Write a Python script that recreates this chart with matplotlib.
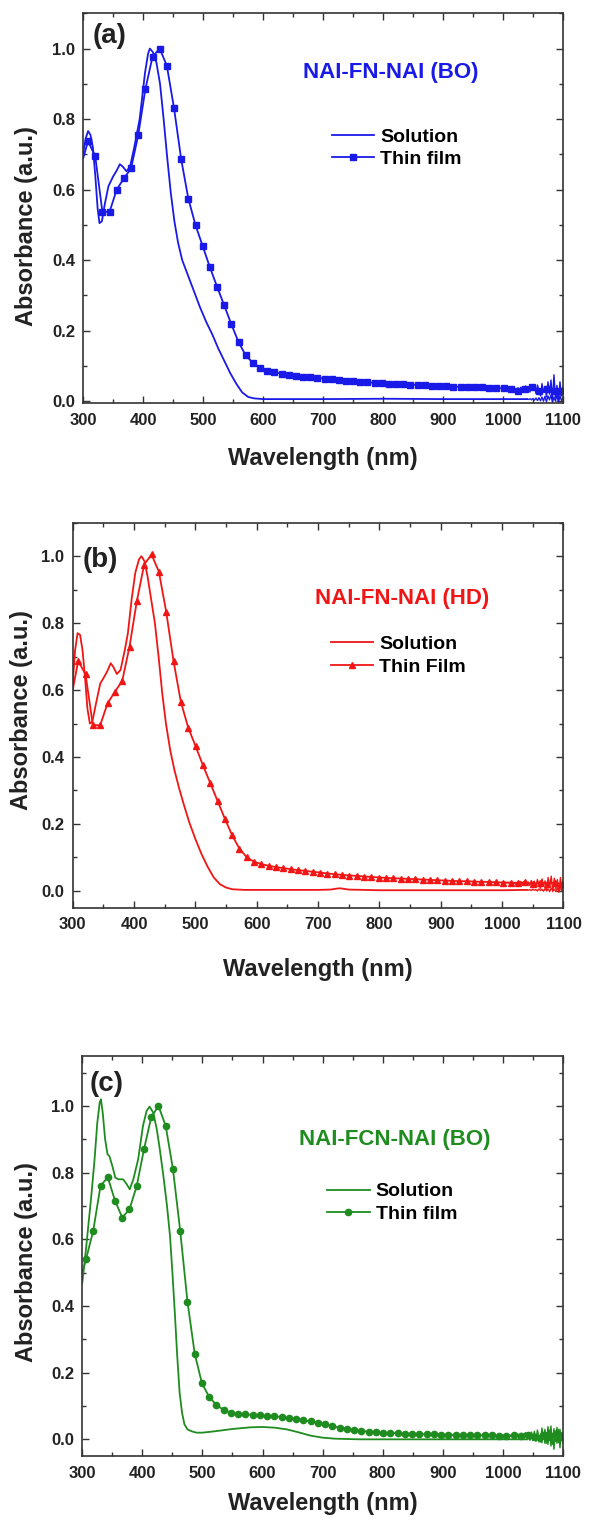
import numpy as np
import matplotlib
matplotlib.use('Agg')
import matplotlib.pyplot as plt
from matplotlib.ticker import MultipleLocator
from matplotlib.lines import Line2D

plt.rcParams['font.family'] = ['Liberation Sans', 'DejaVu Sans']
plt.rcParams['font.weight'] = 'bold'

# ---------------- (a) NAI-FN-NAI (BO) ----------------
sol_a_wl = [300, 304, 308, 312, 316, 320, 324, 327, 331, 336, 342, 350, 356, 361, 366, 372,
            378, 385, 394, 403, 408, 411, 416, 422, 428, 434, 440, 446, 452, 458, 465, 475,
            485, 495, 505, 515, 525, 535, 545, 555, 565, 575, 585, 600, 700, 800, 900, 1000, 1040]
sol_a_abs = [0.705, 0.745, 0.766, 0.755, 0.72, 0.64, 0.545, 0.505, 0.51, 0.56, 0.61, 0.638, 0.655,
             0.672, 0.665, 0.652, 0.665, 0.72, 0.80, 0.932, 0.985, 1.0, 0.99, 0.96, 0.90, 0.80,
             0.69, 0.59, 0.51, 0.45, 0.40, 0.355, 0.31, 0.265, 0.225, 0.19, 0.15, 0.115, 0.08,
             0.05, 0.025, 0.012, 0.008, 0.006, 0.006, 0.007, 0.006, 0.006, 0.006]
sol_a_noise = [0.006, 0.005, 0.007, 0.004, 0.008, 0.003, 0.009, 0.002, 0.010, 0.001, 0.012, 0.000,
               0.014, -0.002, 0.015, 0.004, 0.018, -0.004, 0.012, 0.000, 0.020, -0.005, 0.016,
               0.002, 0.010]
film_a_start = 0.69
film_a_wl = np.arange(307.95, 1100, 11.95)
film_a_abs = [0.737, 0.695, 0.537, 0.537, 0.60, 0.632, 0.66, 0.754, 0.885, 0.977, 1.0, 0.951,
              0.831, 0.686, 0.574, 0.499, 0.44, 0.38, 0.325, 0.272, 0.218, 0.168, 0.13, 0.109,
              0.095, 0.087, 0.082, 0.078, 0.075, 0.072, 0.07, 0.068, 0.066, 0.064, 0.062, 0.06,
              0.058, 0.057, 0.055, 0.054, 0.052, 0.051, 0.05, 0.049, 0.048, 0.047, 0.046, 0.045,
              0.044, 0.043, 0.042, 0.041, 0.041, 0.04, 0.039, 0.039, 0.038, 0.037, 0.037, 0.036,
              0.03, 0.035, 0.04, 0.03, 0.035, 0.03, 0.028]
film_a_noise = [0.036, 0.034, 0.038, 0.035, 0.037, 0.033, 0.038, 0.030, 0.036, 0.025, 0.038,
                0.032, 0.040, 0.028, 0.036, 0.043, 0.030, 0.038, 0.026, 0.044, 0.032, 0.040,
                0.022, 0.046, 0.030, 0.015, 0.050, 0.025, 0.042, 0.012, 0.055, 0.020, 0.060,
                0.005, 0.075, 0.010, 0.045, 0.002, 0.055, 0.015, 0.040]

# ---------------- (b) NAI-FN-NAI (HD) ----------------
sol_b_wl = [300, 304, 308, 312, 316, 320, 324, 328, 332, 338, 345, 350, 356, 362, 366, 372, 378,
            385, 390, 396, 402, 408, 412, 417, 422, 428, 434, 440, 446, 452, 459, 466, 473, 480,
            490, 500, 510, 520, 530, 540, 550, 560, 580, 700, 720, 735, 750, 800, 1000, 1040]
sol_b_abs = [0.62, 0.72, 0.77, 0.765, 0.72, 0.64, 0.545, 0.50, 0.505, 0.56, 0.62, 0.635, 0.655,
             0.68, 0.67, 0.648, 0.66, 0.72, 0.77, 0.87, 0.95, 0.99, 1.0, 0.985, 0.94, 0.87, 0.80,
             0.70, 0.59, 0.50, 0.42, 0.36, 0.31, 0.265, 0.205, 0.155, 0.11, 0.072, 0.04, 0.02,
             0.01, 0.005, 0.003, 0.003, 0.004, 0.008, 0.004, 0.002, 0.002, 0.003]
sol_b_noise = [0.003, 0.002, 0.004, 0.001, 0.005, 0.002, 0.004, 0.000, 0.006, 0.001, 0.005,
               -0.001, 0.007, 0.000, 0.006, -0.002, 0.008, 0.001, 0.005, -0.002, 0.009, 0.000,
               0.006, 0.002, 0.004]
film_b_start = 0.60
film_b_wl = np.arange(309, 1100, 11.95)
film_b_abs = [0.687, 0.647, 0.495, 0.495, 0.56, 0.595, 0.627, 0.73, 0.866, 0.975, 1.005, 0.954,
              0.834, 0.687, 0.565, 0.488, 0.433, 0.376, 0.323, 0.269, 0.216, 0.166, 0.126, 0.1,
              0.087, 0.08, 0.075, 0.071, 0.068, 0.065, 0.062, 0.06, 0.057, 0.055, 0.052, 0.05,
              0.048, 0.046, 0.045, 0.043, 0.042, 0.04, 0.039, 0.038, 0.037, 0.036, 0.035, 0.034,
              0.033, 0.032, 0.031, 0.03, 0.029, 0.029, 0.028, 0.027, 0.027, 0.026, 0.025, 0.025,
              0.024, 0.026, 0.02, 0.025, 0.022, 0.025, 0.02]
film_b_noise = [0.025, 0.023, 0.026, 0.024, 0.025, 0.022, 0.026, 0.021, 0.025, 0.019, 0.027,
                0.022, 0.028, 0.018, 0.026, 0.030, 0.019, 0.027, 0.016, 0.031, 0.020, 0.029,
                0.013, 0.034, 0.018, 0.008, 0.036, 0.014, 0.030, 0.004, 0.040, 0.010, 0.044,
                -0.002, 0.038, 0.006, 0.034, -0.004, 0.040, 0.002, 0.030]

# ---------------- (c) NAI-FCN-NAI (BO) ----------------
sol_c_wl = [300, 305, 310, 315, 320, 325, 329, 331, 334, 338, 342, 345, 350, 355, 360, 368, 374,
            379, 385, 393, 401, 407, 412, 418, 424, 429, 435, 441, 446, 450, 454, 458, 462, 466,
            470, 475, 482, 490, 500, 520, 550, 580, 600, 620, 640, 660, 680, 700, 720, 760, 900,
            1000, 1040]
sol_c_abs = [0.47, 0.55, 0.64, 0.73, 0.83, 0.95, 1.01, 1.02, 0.98, 0.90, 0.855, 0.85, 0.82, 0.785,
             0.78, 0.78, 0.765, 0.75, 0.78, 0.84, 0.94, 0.985, 0.998, 0.98, 0.93, 0.87, 0.79, 0.70,
             0.61, 0.50, 0.38, 0.25, 0.14, 0.08, 0.045, 0.03, 0.024, 0.02, 0.02, 0.024, 0.031,
             0.036, 0.037, 0.035, 0.03, 0.021, 0.011, 0.005, 0.002, 0.0, 0.0, 0.0, 0.0]
sol_c_noise = [0.000, 0.004, -0.003, 0.006, -0.004, 0.008, -0.006, 0.010, -0.008, 0.012, -0.010,
               0.015, -0.012, 0.020, -0.015, 0.028, -0.020, 0.018, -0.030, 0.025, -0.012, 0.030,
               -0.025, 0.020, -0.010]
film_c_start = 0.50
film_c_wl = np.arange(306.2, 1100, 12.06)
film_c_abs = [0.54, 0.626, 0.76, 0.786, 0.716, 0.665, 0.69, 0.76, 0.87, 0.966, 1.0, 0.94, 0.81,
              0.625, 0.413, 0.257, 0.168, 0.127, 0.103, 0.088, 0.08, 0.077, 0.075, 0.073, 0.072,
              0.07, 0.069, 0.067, 0.064, 0.062, 0.058, 0.054, 0.05, 0.045, 0.04, 0.035, 0.031,
              0.028, 0.025, 0.023, 0.021, 0.02, 0.019, 0.018, 0.017, 0.016, 0.016, 0.015, 0.015,
              0.014, 0.014, 0.013, 0.013, 0.013, 0.012, 0.012, 0.012, 0.011, 0.011, 0.012, 0.01,
              0.012, 0.008, 0.012, 0.01, 0.012]
film_c_noise = [0.012, 0.010, 0.014, 0.011, 0.013, 0.009, 0.014, 0.008, 0.015, 0.006, 0.016,
                0.009, 0.018, 0.004, 0.015, 0.020, 0.006, 0.017, 0.002, 0.022, 0.008, 0.024,
                -0.002, 0.028, 0.004, -0.008, 0.034, 0.000, 0.030, -0.012, 0.038, -0.004, 0.040,
                -0.015, 0.032, -0.006, 0.036, -0.010, 0.030, -0.004, 0.020]

sol_noise_wl = np.arange(1040, 1100.1, 2.5)
film_noise_wl = np.arange(1000, 1100.1, 2.5)

BLUE = '#1a1ae8'
RED = '#f01616'
GREEN = '#1f8c1f'
DARK = '#222222'


def draw_panel(rect, ylim, color, tag, name, marker, ms, film_label,
               sol_wl, sol_abs, sol_noise, film_start, film_wl, film_abs, film_noise,
               tag_xy, name_xy, leg_xy, ylab_xy, xlab_y):
    ax = fig.add_axes(rect)
    # solution spectrum
    ax.plot(sol_wl, sol_abs, color=color, lw=1.3)
    ax.plot(sol_noise_wl, sol_noise, color=color, lw=1.0)
    # thin film spectrum, markers on each sampled point
    fx = np.concatenate([[300], film_wl])
    fy = np.concatenate([[film_start], film_abs])
    ax.plot(fx, fy, color=color, lw=1.3, marker=marker, ms=ms,
            markevery=list(range(1, len(fx))))
    ax.plot(film_noise_wl, film_noise, color=color, lw=1.0)

    ax.set_xlim(300, 1100)
    ax.set_ylim(*ylim)
    ax.xaxis.set_major_locator(MultipleLocator(100))
    ax.xaxis.set_minor_locator(MultipleLocator(50))
    ax.yaxis.set_minor_locator(MultipleLocator(0.1))
    ax.set_yticks([0.0, 0.2, 0.4, 0.6, 0.8, 1.0])
    ax.tick_params(which='both', direction='in', top=True, right=True, colors='#333333',
                   labelcolor=DARK, labelsize=12, width=1.0)
    ax.tick_params(which='major', length=5)
    ax.tick_params(which='minor', length=3)
    ax.tick_params(axis='x', pad=7)
    ax.tick_params(axis='y', pad=6)
    for lab in ax.get_xticklabels() + ax.get_yticklabels():
        lab.set_fontweight('bold')
    for sp in ax.spines.values():
        sp.set_linewidth(1.2)
        sp.set_color('#333333')

    ax.set_xlabel('Wavelength (nm)', fontsize=17, fontweight='bold', color=DARK)
    ax.set_ylabel('Absorbance (a.u.)', fontsize=17, fontweight='bold', color=DARK)
    ax.xaxis.set_label_coords(0.5, xlab_y)
    ax.yaxis.set_label_coords(*ylab_xy)

    ax.text(tag_xy[0], tag_xy[1], tag, transform=ax.transAxes, fontsize=20,
            fontweight='bold', color=DARK, ha='left', va='center')
    ax.text(name_xy[0], name_xy[1], name, transform=ax.transAxes, fontsize=16,
            fontweight='bold', color=color, ha='center', va='center')
    handles = [Line2D([], [], color=color, lw=1.3),
               Line2D([], [], color=color, lw=1.3, marker=marker, ms=ms)]
    ax.legend(handles, ['Solution', film_label], loc='center left', numpoints=1,
              bbox_to_anchor=leg_xy, frameon=False, handlelength=2.2,
              handletextpad=0.3, labelspacing=0.25, borderpad=0, borderaxespad=0,
              prop={'weight': 'bold', 'size': 14})
    return ax


fig = plt.figure(figsize=(5.89, 15.27), dpi=100)

draw_panel([0.1414, 0.7361, 0.8144, 0.2552], (-0.005, 1.1), BLUE, '(a)', 'NAI-FN-NAI (BO)',
           's', 4, 'Thin film', sol_a_wl, sol_a_abs, sol_a_noise, film_a_start, film_a_wl,
           film_a_abs, film_a_noise, (0.02, 0.942), (0.641, 0.849), (0.5176, 0.654),
           (-0.095, 0.453), -0.113)

draw_panel([0.1234, 0.4056, 0.8333, 0.2521], (-0.05, 1.1), RED, '(b)', 'NAI-FN-NAI (HD)',
           '^', 4.5, 'Thin Film', sol_b_wl, sol_b_abs, sol_b_noise, film_b_start, film_b_wl,
           film_b_abs, film_b_noise, (0.021, 0.903), (0.672, 0.804), (0.5257, 0.655),
           (-0.080, 0.513), -0.131)

draw_panel([0.1397, 0.0465, 0.8161, 0.262], (-0.05, 1.15), GREEN, '(c)', 'NAI-FCN-NAI (BO)',
           'o', 4.5, 'Thin film', sol_c_wl, sol_c_abs, sol_c_noise, film_c_start, film_c_wl,
           film_c_abs, film_c_noise, (0.016, 0.929), (0.651, 0.79), (0.509, 0.633),
           (-0.092, 0.484), -0.09)

fig.savefig('out.png', dpi=100)
